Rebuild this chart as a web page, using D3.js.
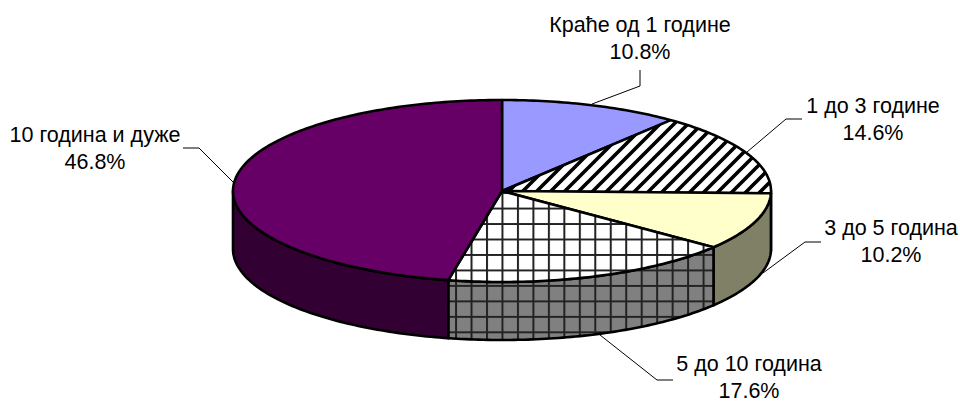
<!DOCTYPE html>
<html><head><meta charset="utf-8">
<script src="https://cdn.jsdelivr.net/npm/d3@7"></script>
<style>html,body{margin:0;background:#fff}svg{display:block}text{font-family:"Liberation Sans",Arial,sans-serif;font-size:21.5px;fill:#000}</style>
</head><body><svg id="c" width="960" height="403"></svg>
<script>
const categories=["Краће од 1 године","1 до 3 године","3 до 5 година","5 до 10 година","10 година и дуже"];
const shares=[10.8,14.6,10.2,17.6,46.8];
const topFills=["#9999ff","url(#hatch)","#ffffcc","url(#gridW)","#660066"];
const sideFills=["#4d4d80","#808080","#808066","url(#gridG)","#330033"];
const labelX=[640,873,891,749,95];
const labelY=[32,113,235,371,142];
const leaders=[[[592,104],[640,86],[640,70]],[[747,152],[786,119],[802,119]],[[763,273],[805,242],[821,242]],[[600,335],[657,380],[673,380]],[[233,182],[199,148],[183,148]]];
const depth=58;
const svg=d3.select("#c");
const x=d3.scaleLinear().domain([-1,1]).range([233,771]);
const y=d3.scaleLinear().domain([-1,1]).range([100,282]);
const defs=svg.append("defs");
const hatch=defs.append("pattern").attr("id","hatch").attr("patternUnits","userSpaceOnUse").attr("width",14).attr("height",14);
hatch.append("rect").attr("width",14).attr("height",14).attr("fill","#fff");
hatch.append("path").attr("d","M-3.5,3.5L3.5,-3.5M0,14L14,0M10.5,17.5L17.5,10.5").attr("stroke","#000").attr("stroke-width",3.6);
[["gridW","#fff"],["gridG","#808080"]].forEach(([id,bg])=>{
  const p=defs.append("pattern").attr("id",id).attr("patternUnits","userSpaceOnUse").attr("width",15.47).attr("height",15.47).attr("x",486).attr("y",254);
  p.append("rect").attr("width",15.47).attr("height",15.47).attr("fill",bg);
  p.append("path").attr("d","M1,0V15.47M0,1H15.47").attr("stroke","#222").attr("stroke-width",2);
});
const pie=d3.pie().sort(null).value(d=>d);
const arcs=pie(shares);
const px=a=>x(Math.sin(a));const py=(a,dz=0)=>y(-Math.cos(a))+dz;
const steps=(a0,a1)=>{const n=Math.max(2,Math.ceil((a1-a0)*60));return d3.range(n+1).map(i=>a0+(a1-a0)*i/n)};
const line=d3.line();
const gSide=svg.append("g").attr("stroke","#000").attr("stroke-width",2.6).attr("stroke-linejoin","round");
arcs.forEach((d,i)=>{
  const a0=Math.max(d.startAngle,Math.PI/2),a1=Math.min(d.endAngle,Math.PI*1.5);
  if(a1<=a0)return;
  const top=steps(a0,a1).map(a=>[px(a),py(a)]);
  const bot=steps(a0,a1).reverse().map(a=>[px(a),py(a,depth)]);
  gSide.append("path").attr("d",line(top.concat(bot))+"Z").attr("fill",sideFills[i]);
});
const gTop=svg.append("g").attr("stroke","#000").attr("stroke-width",2.6).attr("stroke-linejoin","round");
arcs.forEach((d,i)=>{
  const pts=[[x(0),y(0)]].concat(steps(d.startAngle,d.endAngle).map(a=>[px(a),py(a)]));
  gTop.append("path").attr("d",line(pts)+"Z").attr("fill",topFills[i]);
});
svg.append("g").selectAll("path").data(leaders).join("path").attr("d",d=>line(d)).attr("fill","none").attr("stroke","#000").attr("stroke-width",1);
const lab=svg.append("g").attr("text-anchor","middle");
categories.forEach((c,i)=>{
  lab.append("text").attr("x",labelX[i]).attr("y",labelY[i]).text(c);
  lab.append("text").attr("x",labelX[i]).attr("y",labelY[i]+27).text(shares[i].toFixed(1)+"%");
});
</script></body></html>
